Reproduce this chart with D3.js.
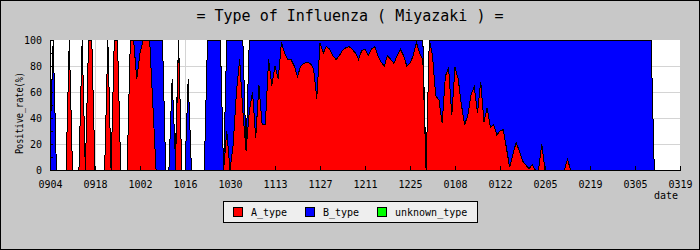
<!DOCTYPE html>
<html>
<head>
<meta charset="utf-8">
<script src="https://cdn.jsdelivr.net/npm/d3@7"></script>
<style>
  body { margin: 0; background: #c8c8c8; }
  svg { display: block; }
  text { font-family: "DejaVu Sans Mono", "Liberation Mono", monospace; fill: #000; }
</style>
</head>
<body>
<svg></svg>
<script>
// one value per day, 0904 .. 0319
const A_type = [
    0, 0, 0, 0, 0, 0, 100, 0, 0, 0,
    100, 0, 100, 100, 0, 0, 0, 0, 100, 0,
    100, 100, 0, 0, 0, 100, 100, 70, 90, 100,
    100, 100, 50, 0, 0, 0, 0, 0, 0, 0,
    100, 0, 0, 0, 0, 0, 0, 0, 0, 0,
    0, 0, 0, 0, 0, 30, 0, 20, 60, 85,
    45, 15, 45, 60, 25, 65, 35, 35, 85, 65,
    80, 70, 98, 90, 85, 85, 80, 72, 80, 82,
    83, 82, 78, 55, 98, 90, 95, 93, 88, 85,
    88, 92, 94, 95, 93, 90, 85, 92, 93, 88,
    93, 95, 88, 83, 80, 88, 85, 82, 88, 93,
    88, 80, 82, 88, 98, 90, 85, 0, 100, 88,
    57, 54, 36, 72, 79, 42, 79, 70, 50, 35,
    42, 58, 64, 44, 68, 37, 48, 33, 35, 27,
    30, 31, 17, 2, 12, 21, 15, 7, 4, 1,
    4, 0, 0, 20, 0, 0, 0, 0, 0, 0,
    0, 8, 0, 0, 0, 0, 0, 0, 0, 0,
    0, 0, 0, 0, 0, 0, 0, 0, 0, 0,
    0, 0, 0, 0, 0, 0, 0, 0, 0, 0,
    0, 0, 0, 0, 0, 0, 0
];

const B_type = [
    20, 100, 0, 0, 0, 0, 0, 0, 0, 0,
    0, 0, 0, 0, 0, 0, 0, 0, 0, 0,
    0, 0, 0, 0, 0, 0, 0, 30, 10, 0,
    0, 0, 50, 100, 100, 100, 0, 0, 70, 10,
    0, 0, 0, 70, 0, 0, 0, 0, 0, 100,
    100, 100, 100, 100, 0, 70, 100, 80, 40, 15,
    55, 0, 55, 40, 75, 35, 65, 65, 15, 35,
    20, 30, 2, 10, 15, 15, 20, 28, 20, 18,
    17, 18, 22, 45, 2, 10, 5, 7, 12, 15,
    12, 8, 6, 5, 7, 10, 15, 8, 7, 12,
    7, 5, 12, 17, 20, 12, 15, 18, 12, 7,
    12, 20, 18, 12, 2, 10, 15, 0, 0, 12,
    43, 46, 64, 28, 21, 58, 21, 30, 50, 65,
    58, 42, 36, 56, 32, 63, 52, 67, 65, 73,
    70, 69, 83, 98, 88, 79, 85, 93, 96, 99,
    96, 100, 100, 80, 100, 100, 100, 100, 100, 100,
    100, 92, 100, 100, 100, 100, 100, 100, 100, 100,
    100, 100, 100, 100, 100, 100, 100, 100, 100, 100,
    100, 100, 100, 100, 100, 100, 100, 100, 0, 0,
    0, 0, 0, 0, 0, 0, 0
];

const unknown_type = [
    0, 0, 0, 0, 0, 0, 0, 0, 0, 0, 0, 0, 0, 0, 0, 0, 0, 0, 0, 0,
    0, 0, 0, 0, 0, 0, 0, 0, 0, 0, 0, 0, 0, 0, 0, 0, 0, 0, 0, 0,
    0, 0, 0, 0, 0, 0, 0, 0, 0, 0, 0, 0, 0, 0, 0, 0, 0, 0, 0, 0,
    0, 0, 0, 0, 0, 0, 0, 0, 0, 0, 0, 0, 0, 0, 0, 0, 0, 0, 0, 0,
    0, 0, 0, 0, 0, 0, 0, 0, 0, 0, 0, 0, 0, 0, 0, 0, 0, 0, 0, 0,
    0, 0, 0, 0, 0, 0, 0, 0, 0, 0, 0, 0, 0, 0, 0, 0, 0, 0, 0, 0,
    0, 0, 0, 0, 0, 0, 0, 0, 0, 0, 0, 0, 0, 0, 0, 0, 0, 0, 0, 0,
    0, 0, 0, 0, 0, 0, 0, 0, 0, 0, 0, 0, 0, 0, 0, 0, 0, 0, 0, 0,
    0, 0, 0, 0, 0, 0, 0, 0, 0, 0, 0, 0, 0, 0, 0, 0, 0, 0, 0, 0,
    0, 0, 0, 0, 0, 0, 0, 0, 0, 0, 0, 0, 0, 0, 0, 0, 0
];

// x ticks every 14 days
const tickDays = [0, 14, 28, 42, 56, 70, 84, 98, 112, 126, 140, 154, 168, 182, 196];
const tickLabels = ["0904", "0918", "1002", "1016", "1030", "1113", "1127", "1211",
    "1225", "0108", "0122", "0205", "0219", "0305", "0319"];

const keys = ["A_type", "B_type", "unknown_type"];
const colors = ["#ff0000", "#0000ff", "#00ff00"];

const width = 700;
const height = 250;
const plotLeft = 50, plotRight = 680, plotTop = 40, plotBottom = 170;

const rows = A_type.map((a, i) => ({ A_type: a, B_type: B_type[i], unknown_type: unknown_type[i] }));

const svg = d3.select("svg")
    .attr("width", width)
    .attr("height", height);

svg.append("rect")
    .attr("x", 0.5).attr("y", 0.5)
    .attr("width", width - 1).attr("height", height - 1)
    .attr("fill", "#c8c8c8")
    .attr("stroke", "#000");

const x = d3.scaleLinear().domain([0, 196]).range([plotLeft, plotRight]);
const y = d3.scaleLinear().domain([0, 100]).range([plotBottom, plotTop]);

// plot background
svg.append("rect")
    .attr("x", plotLeft).attr("y", plotTop)
    .attr("width", plotRight - plotLeft).attr("height", plotBottom - plotTop)
    .attr("fill", "#fff");

// grid
svg.append("g")
    .selectAll("line")
    .data([20, 40, 60, 80])
    .enter().append("line")
    .attr("x1", plotLeft).attr("x2", plotRight)
    .attr("y1", d => y(d) + 0.5).attr("y2", d => y(d) + 0.5)
    .attr("stroke", "#d4d4d4");

svg.append("g")
    .selectAll("line")
    .data(tickDays.slice(0, -1))
    .enter().append("line")
    .attr("x1", d => Math.round(x(d)) + 0.5).attr("x2", d => Math.round(x(d)) + 0.5)
    .attr("y1", plotTop).attr("y2", plotBottom)
    .attr("stroke", "#d4d4d4");

// stacked areas
const series = d3.stack().keys(keys)(rows);

const area = d3.area()
    .x((d, i) => x(i))
    .y0(d => y(d[0]))
    .y1(d => y(d[1]));

svg.append("g")
    .selectAll("path")
    .data(series)
    .enter().append("path")
    .attr("d", area)
    .attr("fill", (d, i) => colors[i])
    .attr("stroke", "#000")
    .attr("stroke-width", 1)
    .attr("shape-rendering", "crispEdges");

// axes
const xAxis = d3.axisBottom(x)
    .tickValues(tickDays)
    .tickFormat((d, i) => tickLabels[i])
    .tickSizeInner(-4)
    .tickSizeOuter(0)
    .tickPadding(11);

svg.append("g")
    .attr("transform", `translate(0,${plotBottom})`)
    .call(xAxis)
    .call(g => g.selectAll("path, line").attr("stroke", "#000").attr("shape-rendering", "crispEdges"))
    .call(g => g.selectAll("text").attr("font-size", 10).attr("font-family", null));

const yAxis = d3.axisLeft(y)
    .tickValues([0, 10, 20, 30, 40, 50, 60, 70, 80, 90, 100])
    .tickFormat(d => d % 20 === 0 ? d : "")
    .tickSizeInner(-3)
    .tickSizeOuter(0)
    .tickPadding(8);

svg.append("g")
    .attr("transform", `translate(${plotLeft},0)`)
    .call(yAxis)
    .call(g => g.selectAll("path, line").attr("stroke", "#000").attr("shape-rendering", "crispEdges"))
    .call(g => g.selectAll("text").attr("font-size", 10).attr("font-family", null));

// titles
svg.append("text")
    .attr("x", width / 2)
    .attr("y", 21)
    .attr("text-anchor", "middle")
    .attr("font-size", 15)
    .text("= Type of Influenza ( Miyazaki ) =");

svg.append("text")
    .attr("transform", "translate(23,113) rotate(-90)")
    .attr("text-anchor", "middle")
    .attr("font-size", 10)
    .attr("textLength", 82)
    .attr("lengthAdjust", "spacingAndGlyphs")
    .text("Positive_rate(%)");

svg.append("text")
    .attr("x", 678)
    .attr("y", 199)
    .attr("text-anchor", "end")
    .attr("font-size", 10)
    .text("date");

// legend
const legend = svg.append("g");

legend.append("rect")
    .attr("x", 223.5).attr("y", 201.5)
    .attr("width", 254).attr("height", 21)
    .attr("fill", "#eeeeee")
    .attr("stroke", "#000");

const legendX = [233, 305, 377];

const item = legend.selectAll("g")
    .data(keys)
    .enter().append("g")
    .attr("transform", (d, i) => `translate(${legendX[i]},207)`);

item.append("rect")
    .attr("x", 0.5).attr("y", 0.5)
    .attr("width", 9).attr("height", 9)
    .attr("fill", (d, i) => colors[i])
    .attr("stroke", "#000");

item.append("text")
    .attr("x", 18)
    .attr("y", 9)
    .attr("font-size", 10)
    .text(d => d);
</script>
</body>
</html>
